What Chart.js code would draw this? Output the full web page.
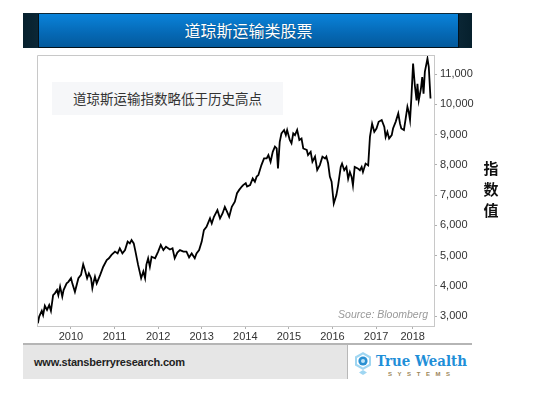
<!DOCTYPE html>
<html>
<head>
<meta charset="utf-8">
<script src="https://cdn.jsdelivr.net/npm/chart.js@4"></script>
<style>
  body { margin: 0; width: 550px; height: 398px; background: #fff; position: relative; overflow: hidden; font-family: "Liberation Sans", Arial, sans-serif; }
  #chart { position: absolute; left: 0; top: 0; }
  .abs { position: absolute; }
</style>
</head>
<body>
<canvas id="chart" width="550" height="398"></canvas>

<!-- header band -->
<div class="abs" style="left:23px;top:13px;width:449px;height:35px;background:linear-gradient(90deg,#06202d,#0e2a3a 5%,#0b1f2b 50%,#0e2a3a 95%,#06202d);">
  <div class="abs" style="left:15px;top:1px;width:419px;height:33px;background:linear-gradient(#0a83da,#0568b4 60%,#045a9c);border:1px solid #02121c;border-top:none;color:#fff;text-align:center;font:16px/33px 'Noto Sans CJK SC',sans-serif;text-shadow:0 0 1px rgba(0,0,0,0.4);">道琼斯运输类股票</div>
</div>

<!-- note box -->
<div class="abs" style="left:52px;top:82px;width:231px;height:33px;background:#f6f7f9;color:#333;text-align:center;font:13.5px/33px 'Noto Sans CJK SC',sans-serif;">道琼斯运输指数略低于历史高点</div>

<!-- axis title -->
<div class="abs" style="left:483px;top:157px;width:16px;color:#111;font:bold 15px/21px 'Noto Sans CJK SC',sans-serif;text-align:center;">指<br>数<br>值</div>

<!-- source -->
<div class="abs" style="left:300px;top:308px;width:128px;text-align:right;color:#9a9a9a;font:italic 10.5px 'Liberation Sans',Arial,sans-serif;">Source: Bloomberg</div>

<!-- footer -->
<div class="abs" style="left:23px;top:343px;width:449px;height:34px;border-top:2px solid #b5b5b5;background:#fff;">
  <div class="abs" style="left:0;top:0;width:324px;height:34px;background:#e6e6e6;border-right:1px solid #b8b8b8;"></div>
  <div class="abs" style="left:11px;top:11px;color:#222;font:bold 11px 'Liberation Sans',Arial,sans-serif;letter-spacing:-0.2px;">www.stansberryresearch.com</div>
  <svg class="abs" style="left:330px;top:4px;" width="119" height="28" viewBox="0 0 119 28">
    <polygon points="10,3 18,7.5 18,16.5 10,21 2,16.5 2,7.5" fill="#9fd6f2"/>
    <polygon points="10,5.5 16,9 16,15 10,18.5 4,15 4,9" fill="#fff"/>
    <circle cx="10" cy="12" r="4.6" fill="#2a90d2"/>
    <circle cx="10" cy="12" r="2" fill="#bfe3f7"/>
    <polygon points="10,21 14,23.5 10,26 6,23.5" fill="#9fd6f2"/>
    <text x="23" y="17" fill="#1f8fd8" font-family="DejaVu Serif" font-weight="bold" font-size="14.5" textLength="91" lengthAdjust="spacingAndGlyphs">True Wealth</text>
    <text x="35" y="26.5" fill="#9c8658" font-family="Liberation Sans" font-weight="bold" font-size="6" textLength="62" lengthAdjust="spacing">SYSTEMS</text>
  </svg>
</div>

<script>
// Dow Jones Transportation Average
const tradeDates = [
  2009.24, 2009.27, 2009.33, 2009.36, 2009.40, 2009.45, 2009.50, 2009.54, 2009.59, 2009.63,
  2009.68, 2009.71, 2009.75, 2009.80, 2009.83, 2009.90, 2009.94, 2010.00, 2010.03, 2010.09,
  2010.17, 2010.23, 2010.28, 2010.32, 2010.37, 2010.41, 2010.46, 2010.49, 2010.52, 2010.55,
  2010.59, 2010.67, 2010.74, 2010.82, 2010.87, 2010.93, 2011.01, 2011.07, 2011.12, 2011.18,
  2011.24, 2011.30, 2011.35, 2011.39, 2011.44, 2011.48, 2011.54, 2011.61, 2011.66, 2011.70,
  2011.73, 2011.77, 2011.81, 2011.85, 2011.93, 2012.00, 2012.06, 2012.12, 2012.18, 2012.27,
  2012.33, 2012.38, 2012.44, 2012.50, 2012.58, 2012.65, 2012.71, 2012.77, 2012.84, 2012.88,
  2012.94, 2013.00, 2013.05, 2013.11, 2013.19, 2013.23, 2013.28, 2013.36, 2013.42, 2013.48,
  2013.53, 2013.58, 2013.63, 2013.69, 2013.76, 2013.81, 2013.86, 2013.92, 2013.95, 2014.01,
  2014.04, 2014.11, 2014.17, 2014.22, 2014.26, 2014.30, 2014.37, 2014.43, 2014.49, 2014.53,
  2014.58, 2014.63, 2014.68, 2014.72, 2014.75, 2014.79, 2014.83, 2014.89, 2014.93, 2014.96,
  2015.02, 2015.06, 2015.10, 2015.14, 2015.19, 2015.24, 2015.29, 2015.33, 2015.41, 2015.44,
  2015.50, 2015.54, 2015.60, 2015.65, 2015.71, 2015.77, 2015.83, 2015.86, 2015.90, 2015.94,
  2015.98, 2016.03, 2016.09, 2016.13, 2016.19, 2016.22, 2016.27, 2016.32, 2016.36, 2016.40,
  2016.44, 2016.47, 2016.51, 2016.58, 2016.63, 2016.67, 2016.70, 2016.76, 2016.82, 2016.86,
  2016.91, 2016.96, 2017.01, 2017.06, 2017.13, 2017.19, 2017.22, 2017.26, 2017.30, 2017.36,
  2017.39, 2017.45, 2017.51, 2017.55, 2017.58, 2017.64, 2017.68, 2017.72, 2017.75, 2017.78,
  2017.81, 2017.85, 2017.89, 2017.93, 2017.95, 2017.98, 2018.03, 2018.06, 2018.09, 2018.12,
  2018.18, 2018.21, 2018.25
];
const indexValues = [
  2760, 2980, 3170, 3030, 3340, 3200, 3360, 3170, 3690, 3750,
  3860, 3690, 3970, 3640, 3860, 4080, 4130, 4250, 4080, 3800,
  4250, 4360, 4710, 4520, 4250, 4410, 4250, 3920, 4130, 4300,
  4080, 4360, 4630, 4850, 4910, 5020, 5130, 5070, 5240, 5070,
  5180, 5460, 5400, 5510, 5400, 5130, 4690, 4250, 4470, 4250,
  4700, 4910, 4630, 4960, 4910, 5130, 5350, 5180, 5290, 5200,
  5240, 4910, 5100, 5180, 5130, 5130, 4940, 5070, 4910, 5070,
  5180, 5460, 5840, 5950, 6230, 6060, 6280, 6500, 6230, 6400,
  6610, 6450, 6280, 6610, 6780, 7060, 7170, 7280, 7330, 7390,
  7280, 7330, 7550, 7440, 7610, 7660, 7990, 8210, 8210, 8320,
  8100, 8430, 8600, 8540, 7880, 8760, 9040, 9150, 8980, 9150,
  8820, 8710, 9040, 8980, 9150, 8820, 8870, 8540, 8490, 8320,
  8430, 8100, 8270, 7830, 7990, 8270, 8210, 8270, 8050, 7610,
  7440, 6720, 7000, 7320, 7930, 8040, 7820, 7930, 7540, 7760,
  7600, 7320, 7930, 7880, 7820, 7930, 7760, 8040, 7980, 8920,
  9360, 9090, 9200, 9420, 9480, 9250, 8920, 9090, 8870, 8980,
  9200, 9420, 9700, 9360, 9200, 9150, 9530, 9920, 9750, 9480,
  10190, 11350, 10630, 10130, 10680, 10130, 10520, 10900, 10350, 11070,
  11510, 11240, 10190
];

const yTickValues = [3000, 4000, 5000, 6000, 7000, 8000, 9000, 10000, 11000];
const xTickValues = [2010, 2011, 2012, 2013, 2014, 2015, 2016, 2017, 2017.84];
const xTickLabels = ['2010', '2011', '2012', '2013', '2014', '2015', '2016', '2017', '2018'];

// top + left edges of the plot frame
const frame = {
  id: 'frame',
  afterDraw(chart) {
    const a = chart.chartArea, c = chart.ctx;
    c.save();
    c.strokeStyle = '#c8c8c8';
    c.lineWidth = 1;
    c.beginPath();
    c.moveTo(a.left + 0.5, a.bottom);
    c.lineTo(a.left + 0.5, a.top + 0.5);
    c.lineTo(a.right, a.top + 0.5);
    c.stroke();
    c.restore();
  }
};

const ctx = document.getElementById('chart').getContext('2d');
new Chart(ctx, {
  type: 'line',
  data: {
    datasets: [{
      data: tradeDates.map((d, i) => ({ x: d, y: indexValues[i] })),
      borderColor: '#000',
      borderWidth: 1.8,
      pointRadius: 0,
      tension: 0
    }]
  },
  options: {
    responsive: false,
    animation: false,
    events: [],
    layout: { padding: { left: 37, top: 55, right: 70, bottom: 52 } },
    plugins: { legend: { display: false }, tooltip: { enabled: false } },
    scales: {
      x: {
        type: 'linear',
        min: 2009.22,
        max: 2018.33,
        afterBuildTicks: s => { s.ticks = xTickValues.map(v => ({ value: v })); },
        afterFit: s => { s.height = 20; },
        grid: { drawOnChartArea: false, tickLength: 3, color: '#b0b0b0' },
        border: { color: '#c8c8c8' },
        ticks: {
          autoSkip: false,
          maxRotation: 0,
          padding: 1,
          color: '#333',
          font: { family: 'Liberation Sans', size: 11 },
          callback: (v, i) => xTickLabels[i]
        }
      },
      y: {
        position: 'right',
        min: 2670,
        max: 11630,
        afterBuildTicks: s => { s.ticks = yTickValues.map(v => ({ value: v })); },
        afterFit: s => { s.width = 46; },
        grid: { drawOnChartArea: false, tickLength: 3, color: '#b0b0b0' },
        border: { color: '#c8c8c8' },
        ticks: {
          padding: 3,
          color: '#333',
          font: { family: 'Liberation Sans', size: 11 },
          callback: v => v.toLocaleString('en-US')
        }
      }
    }
  },
  plugins: [frame]
});
</script>
</body>
</html>
